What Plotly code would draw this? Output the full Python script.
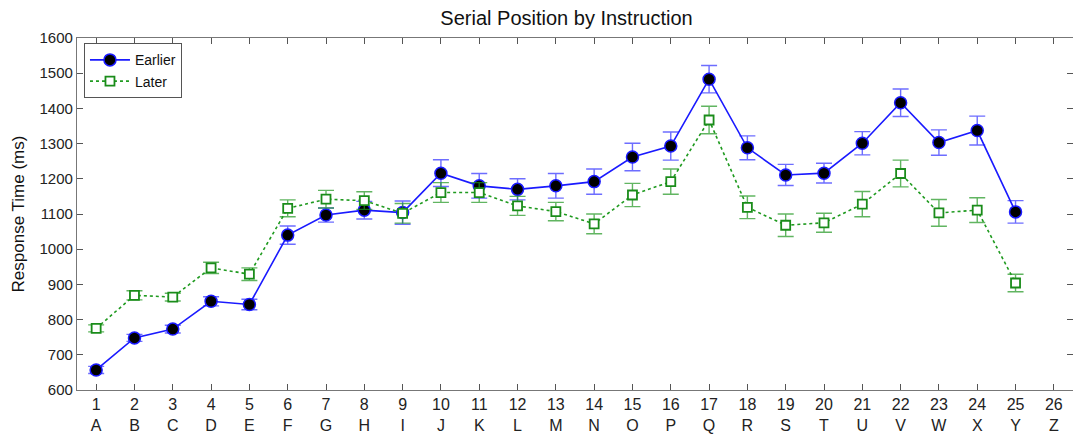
import plotly.graph_objects as go

positions = list(range(1, 26))
tick_vals = list(range(1, 27))
tick_numbers = [str(i) for i in range(1, 27)]
tick_letters = list("ABCDEFGHIJKLMNOPQRSTUVWXYZ")

earlier = [657, 748, 773, 852, 843, 1040, 1097, 1111, 1104, 1216, 1180, 1170, 1180,
           1192, 1262, 1293, 1483, 1288, 1211, 1216, 1301, 1416, 1303, 1337, 1106]
earlier_err = [10, 10, 11, 13, 15, 26, 20, 25, 33, 38, 35, 30, 35,
               36, 39, 40, 39, 34, 30, 28, 33, 39, 36, 41, 32]
later = [775, 869, 864, 947, 929, 1116, 1142, 1138, 1102, 1161, 1161, 1123, 1107,
         1072, 1154, 1192, 1367, 1119, 1068, 1075, 1128, 1215, 1103, 1111, 904]
later_err = [10, 13, 11, 16, 18, 24, 25, 25, 28, 28, 28, 27, 26,
             28, 33, 36, 39, 32, 32, 27, 36, 38, 38, 35, 25]

fig = go.Figure()
fig.add_trace(go.Scatter(
    x=positions, y=earlier, name="Earlier", mode="lines+markers",
    line=dict(color="#1a1aff", width=1.6),
    marker=dict(symbol="circle", size=12, color="black",
                line=dict(color="#1a1aff", width=1.5)),
    error_y=dict(type="data", array=earlier_err, visible=True,
                 color="rgba(60,60,255,0.75)", thickness=1.4, width=8),
))
fig.add_trace(go.Scatter(
    x=positions, y=later, name="Later", mode="lines+markers",
    line=dict(color="#1f9a1f", width=1.6, dash="dot"),
    marker=dict(symbol="square", size=9, color="white",
                line=dict(color="#1a8c1a", width=1.8)),
    error_y=dict(type="data", array=later_err, visible=True,
                 color="rgba(30,150,30,0.7)", thickness=1.4, width=8),
))

font_family = "Liberation Sans, Arial, sans-serif"
axis_font = dict(family=font_family, size=15, color="#222")
fig.update_layout(
    width=1073, height=439,
    margin=dict(l=77, r=0, t=38, b=49),
    paper_bgcolor="white", plot_bgcolor="white",
    title=dict(text="Serial Position by Instruction", x=0.528, xanchor="center",
               y=0.96, yanchor="middle",
               font=dict(family=font_family, size=20, color="#111")),
    font=axis_font,
    showlegend=True,
    legend=dict(x=0.007, y=0.985, xanchor="left", yanchor="top",
                bordercolor="#555", borderwidth=1, bgcolor="white",
                font=dict(family=font_family, size=14, color="#111"),
                tracegroupgap=0, itemwidth=40),
)
fig.update_xaxes(
    range=[0.5, 26.5], tickmode="array", tickvals=tick_vals,
    ticktext=[f"{n}<br>{l}" for n, l in zip(tick_numbers, tick_letters)],
    ticks="inside", ticklen=6, tickcolor="#555", showline=True, linecolor="#777",
    linewidth=1.2, mirror="ticks", showgrid=False, zeroline=False,
    tickfont=dict(family=font_family, size=16, color="#222"),
)
fig.update_yaxes(
    range=[600, 1600], dtick=100, ticks="inside", ticklen=6, tickcolor="#555",
    showline=True, linecolor="#777", linewidth=1.2, mirror="ticks", showgrid=False,
    zeroline=False, tickfont=axis_font,
    title=dict(text="Response Time (ms)", standoff=10,
               font=dict(family=font_family, size=17, color="#111")),
)
fig.write_html("out.html")
